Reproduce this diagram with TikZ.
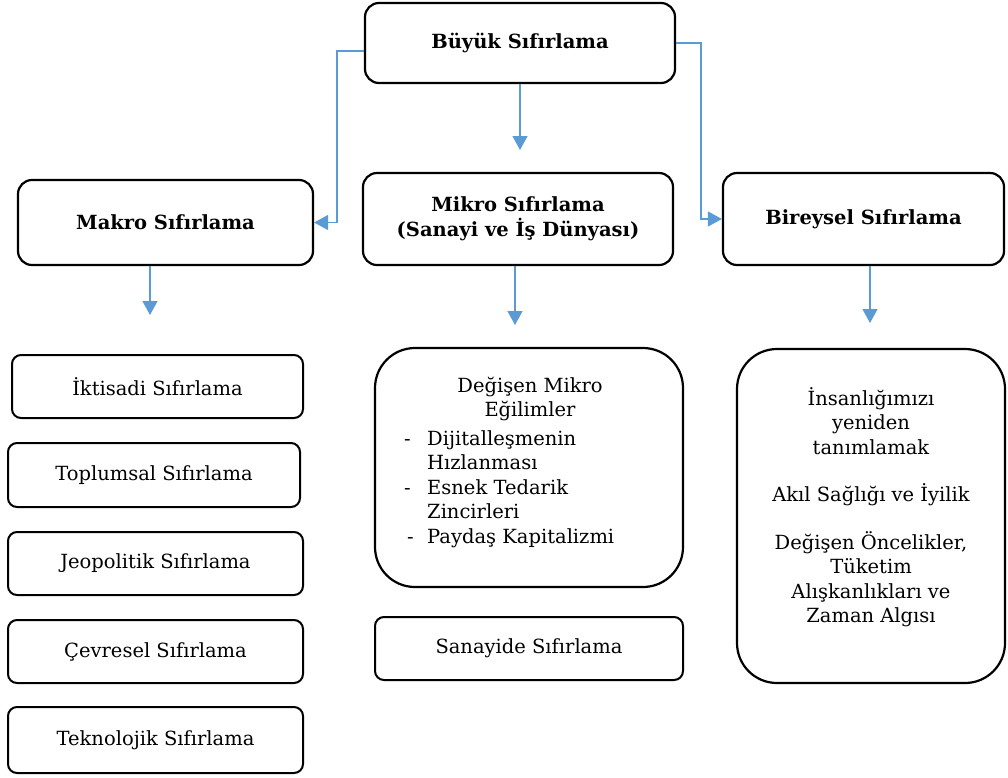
\documentclass[tikz,border=0pt]{standalone}
\usepackage{fontspec}
\setmainfont{DejaVu Serif}
\usepackage{tikz}
\usetikzlibrary{arrows.meta}
\definecolor{linkblue}{RGB}{91,155,213}
\newcommand\diagfont{\fontsize{19.5}{24.5}\selectfont}

\tikzset{
  headbox/.style={draw, line width=2.2pt, rounded corners=14pt, font=\diagfont\bfseries, align=center, inner sep=0pt},
  itembox/.style={draw, line width=2pt, rounded corners=9pt, inner sep=0pt},
  bigbox/.style={draw, line width=2.2pt, rounded corners=40pt, inner sep=0pt},
  link/.style={draw=linkblue, line width=1.3pt, -{Triangle[length=14pt,width=15pt]}},
}

\begin{document}
\begin{tikzpicture}[x=1pt,y=-1pt,font=\diagfont]
\useasboundingbox (0,0) rectangle (1008,777);

% main boxes
\node[headbox, minimum width=310pt, minimum height=80pt] (grand) at (520,43) {Büyük Sıfırlama};
\node[headbox, minimum width=295pt, minimum height=85pt] (makro) at (165.5,222.5) {Makro Sıfırlama};
\node[headbox, minimum width=310pt, minimum height=92pt] (mikro) at (518,219) {Mikro Sıfırlama\\(Sanayi ve İş Dünyası)};
\node[headbox, minimum width=281pt, minimum height=92pt] (bireysel) at (863.5,219) {Bireysel Sıfırlama};

% left column
\node[itembox, minimum width=291pt, minimum height=63pt] (iktisadi) at (157.5,386.5) {İktisadi Sıfırlama};
\node[itembox, minimum width=292pt, minimum height=64pt] (toplumsal) at (154,475) {Toplumsal Sıfırlama};
\node[itembox, minimum width=295pt, minimum height=63pt] (jeopolitik) at (155.5,563.5) {Jeopolitik Sıfırlama};
\node[itembox, minimum width=295pt, minimum height=63pt] (cevresel) at (155.5,651.5) {Çevresel Sıfırlama};
\node[itembox, minimum width=295pt, minimum height=66pt] (teknolojik) at (155.5,740) {Teknolojik Sıfırlama};

% middle column
\node[bigbox, minimum width=308pt, minimum height=239pt] (trends) at (529,467.5) {};
\node[align=center, inner sep=0pt] (trendhead) at (530,399) {Değişen Mikro\\Eğilimler};
\node[align=left, inner sep=0pt, anchor=west] (trendlist) at (404,489)
  {\makebox[23pt][l]{-}Dijitalleşmenin\\
   \hspace*{23pt}Hızlanması\\
   \makebox[23pt][l]{-}Esnek Tedarik\\
   \hspace*{23pt}Zincirleri\\
   \makebox[23pt][l]{\hspace*{3pt}-}Paydaş Kapitalizmi};
\node[itembox, minimum width=308pt, minimum height=63pt] (sanayi) at (529,648.5) {Sanayide Sıfırlama};

% right column
\node[bigbox, minimum width=268pt, minimum height=334pt] (insan) at (871,516) {};
\node[align=center, inner sep=0pt] (insantext) at (871,507)
  {İnsanlığımızı\\yeniden\\tanımlamak\\[23pt]
   Akıl Sağlığı ve İyilik\\[23pt]
   Değişen Öncelikler,\\Tüketim\\Alışkanlıkları ve\\Zaman Algısı};

% connectors
\coordinate (grandtip) at (520,150);
\coordinate (makrotip) at (150,315);
\coordinate (mikrotip) at (515,325);
\coordinate (bireyseltip) at (870,323);
\draw[link] ([yshift=-8pt]grand.west) -- ++(-27,0) |- (makro.east);
\draw[link] (grand.east) -- ++(25,0) |- (bireysel.west);
\draw[link] (grand.south) -- (grandtip);
\draw[link] (makrotip|-makro.south) -- (makrotip);
\draw[link] (mikrotip|-mikro.south) -- (mikrotip);
\draw[link] (bireyseltip|-bireysel.south) -- (bireyseltip);
\end{tikzpicture}
\end{document}
